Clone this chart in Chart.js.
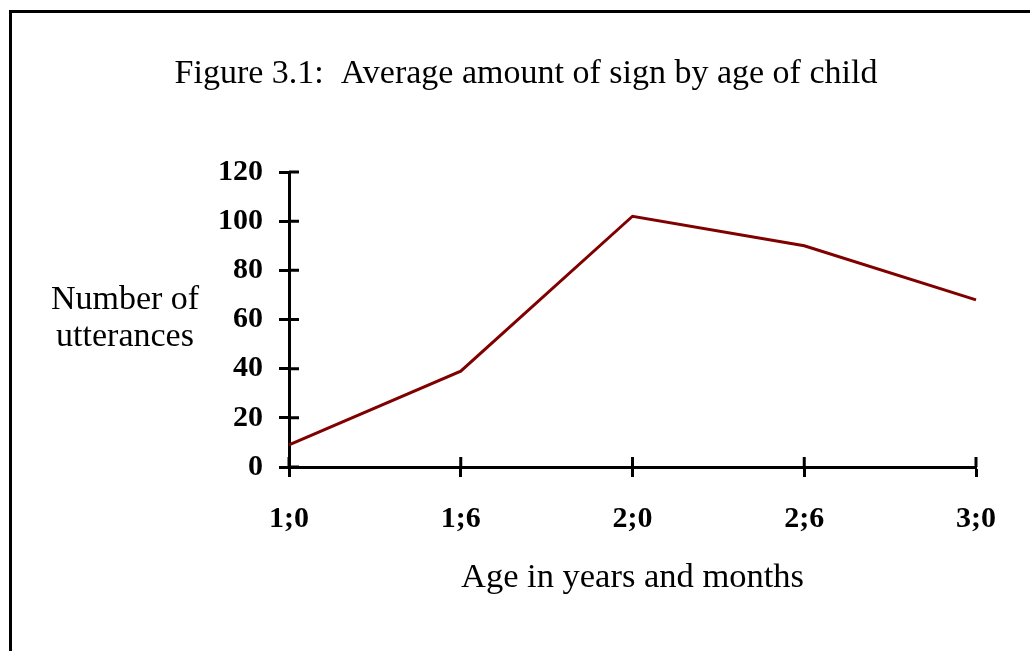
<!DOCTYPE html>
<html>
<head>
<meta charset="utf-8">
<title>Figure 3.1</title>
<script src="https://cdn.jsdelivr.net/npm/chart.js@4.4.1/dist/chart.umd.min.js"></script>
<style>
  html, body { margin: 0; padding: 0; background: #fff; overflow: hidden; }
  #wrap { position: relative; width: 1030px; height: 651px; }
  /* page frame – only left and top edges are visible in the crop */
  #frame { position: absolute; left: 9px; top: 10px; width: 1100px; height: 700px;
           border-left: 3px solid #000; border-top: 3px solid #000; }
  #chart { position: absolute; left: 0; top: 0; }
</style>
</head>
<body>
<div id="wrap">
  <div id="frame"></div>
  <canvas id="chart" width="1030" height="651"></canvas>
</div>
<script>
// ---- data ----
const AGE_LABELS = ['1;0', '1;6', '2;0', '2;6', '3;0'];
const UTTERANCES = [9, 39, 102, 90, 68];
const Y_MIN = 0;
const Y_MAX = 120;
const Y_STEP = 20;

const SERIF = "'Liberation Serif', 'Times New Roman', serif";

// extra texts: chart title and the horizontal two-line y title
const textPlugin = {
    id: 'texts',
    afterDraw(chart) {
        const ctx = chart.ctx;
        ctx.save();
        ctx.fillStyle = '#000';
        ctx.textAlign = 'center';
        ctx.textBaseline = 'alphabetic';
        ctx.font = '34px ' + SERIF;
        ctx.fillText('Figure 3.1:  Average amount of sign by age of child', 526, 83);
        ctx.fillText('Number of', 125, 309);
        ctx.fillText('utterances', 125, 346);
        ctx.restore();
    }
};

// ticks cross the axis: draw the inner half of every tick
const crossTicks = {
    id: 'crossTicks',
    afterDraw(chart) {
        const ctx = chart.ctx;
        const { x, y } = chart.scales;
        ctx.save();
        ctx.strokeStyle = '#000';
        ctx.lineWidth = 3;
        ctx.beginPath();
        y.ticks.forEach((t, i) => {
            const py = y.getPixelForTick(i);
            ctx.moveTo(y.right, py);
            ctx.lineTo(y.right + 10, py);
        });
        x.ticks.forEach((t, i) => {
            const px = x.getPixelForTick(i);
            ctx.moveTo(px, x.top);
            ctx.lineTo(px, x.top - 10);
        });
        ctx.stroke();
        ctx.restore();
    }
};

new Chart(document.getElementById('chart'), {
    type: 'line',
    data: {
        labels: AGE_LABELS,
        datasets: [{
            data: UTTERANCES,
            borderColor: '#800000',
            borderWidth: 3,
            tension: 0,
            pointRadius: 0,
            fill: false,
            clip: false,
        }]
    },
    options: {
        responsive: false,
        animation: false,
        layout: { padding: { top: 172, left: 0, right: 54, bottom: 44 } },
        plugins: {
            legend: { display: false },
            tooltip: { enabled: false },
            title: { display: false }
        },
        scales: {
            x: {
                afterFit: s => { s.height = 140; },
                grid: { drawOnChartArea: false, tickLength: 10, tickWidth: 3, tickColor: '#000' },
                border: { color: '#000', width: 3 },
                ticks: { color: '#000', padding: 24, font: { family: SERIF, size: 30, weight: 'bold' } },
                title: {
                    display: true, text: 'Age in years and months', color: '#000',
                    font: { family: SERIF, size: 34.5 }, padding: { top: 0, bottom: 8 }
                }
            },
            y: {
                min: Y_MIN, max: Y_MAX,
                afterFit: s => { s.width = 289; },
                grid: { drawOnChartArea: false, tickLength: 10, tickWidth: 3, tickColor: '#000' },
                border: { color: '#000', width: 3 },
                ticks: { stepSize: Y_STEP, color: '#000', padding: 16, font: { family: SERIF, size: 30, weight: 'bold' } }
            }
        }
    },
    plugins: [textPlugin, crossTicks]
});
</script>
</body>
</html>
